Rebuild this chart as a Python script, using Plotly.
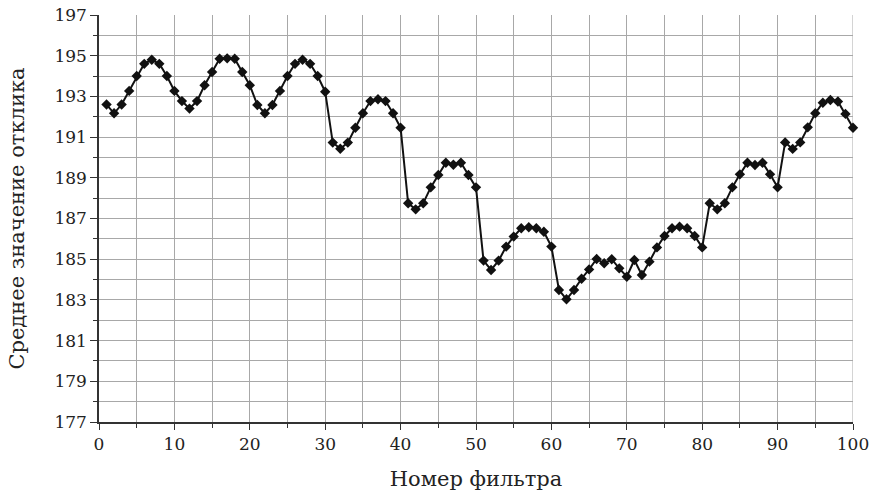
import plotly.graph_objects as go

filters = list(range(1, 101))
response = [
    192.6, 192.17, 192.6, 193.27, 194.0, 194.6, 194.8, 194.6, 194.0, 193.27,
    192.77, 192.4, 192.77, 193.55, 194.2, 194.85, 194.87, 194.85, 194.2, 193.55,
    192.58, 192.17, 192.58, 193.27, 194.0, 194.6, 194.8, 194.6, 194.0, 193.23,
    190.73, 190.43, 190.73, 191.46, 192.17, 192.77, 192.86, 192.77, 192.17, 191.46,
    187.75, 187.45, 187.75, 188.53, 189.14, 189.74, 189.64, 189.74, 189.14, 188.53,
    184.93, 184.47, 184.93, 185.62, 186.11, 186.52, 186.57, 186.52, 186.35, 185.62,
    183.49, 183.03, 183.49, 184.04, 184.5, 185.01, 184.8, 185.0, 184.55, 184.14,
    184.96, 184.22, 184.88, 185.58, 186.14, 186.52, 186.6, 186.52, 186.14, 185.58,
    187.75, 187.45, 187.75, 188.53, 189.17, 189.74, 189.63, 189.74, 189.17, 188.53,
    190.74, 190.42, 190.74, 191.48, 192.17, 192.69, 192.82, 192.75, 192.14, 191.46,
]
y_ticks = list(range(177, 198, 2))
x_ticks = list(range(0, 101, 10))

FONT = "DejaVu Serif"
GRID = "#a8a8a8"

fig = go.Figure()
fig.add_trace(go.Scatter(
    x=filters, y=response, mode="lines+markers",
    line=dict(color="#111111", width=2),
    marker=dict(symbol="diamond", size=8, color="#111111"),
    showlegend=False, cliponaxis=False,
))

fig.update_layout(
    width=873, height=494,
    margin=dict(l=99, r=20, t=15, b=72, autoexpand=False),
    paper_bgcolor="white", plot_bgcolor="white",
    font=dict(family=FONT, size=17, color="#222222"),
)
fig.update_xaxes(
    range=[0, 100], tickvals=x_ticks, ticktext=[str(v) for v in x_ticks],
    showgrid=True, gridcolor=GRID, gridwidth=1,
    showline=True, linecolor="#333333", linewidth=1.5,
    ticks="outside", ticklen=6, tickcolor="#333333",
    minor=dict(dtick=5, tick0=0, showgrid=True, gridcolor=GRID, ticks="outside", ticklen=4, tickcolor="#333333"),
    zeroline=False, automargin=False, ticklabeloverflow="allow",
    title=dict(text="Номер фильтра", font=dict(family=FONT, size=21), standoff=18),
    tickfont=dict(family=FONT, size=17),
)
fig.update_yaxes(
    range=[177, 197], tickvals=y_ticks, ticktext=[str(v) for v in y_ticks],
    showgrid=True, gridcolor=GRID, gridwidth=1,
    showline=True, linecolor="#333333", linewidth=1.5,
    ticks="outside", ticklen=7, tickcolor="#333333",
    minor=dict(dtick=1, tick0=177, showgrid=True, gridcolor=GRID, ticks="outside", ticklen=4, tickcolor="#333333"),
    zeroline=False, automargin=False, ticklabeloverflow="allow",
    title=dict(text="Среднее значение отклика", font=dict(family=FONT, size=21), standoff=24),
    tickfont=dict(family=FONT, size=17),
)
fig.add_shape(type="line", xref="x", yref="paper", x0=100, x1=100, y0=0, y1=1,
              line=dict(color=GRID, width=1), layer="below")

fig.write_html("out.html", config={"displayModeBar": False},
               post_script="document.body.style.margin='0';")
